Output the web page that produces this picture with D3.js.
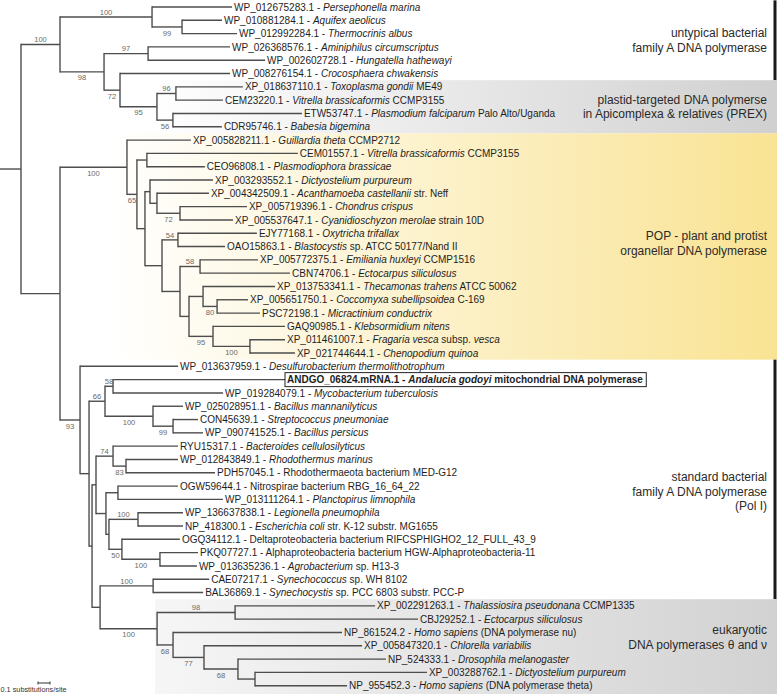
<!DOCTYPE html>
<html><head><meta charset="utf-8">
<script src="https://cdn.jsdelivr.net/npm/d3@7"></script>
<style>body{margin:0;background:#fff}svg{display:block}</style>
</head><body><svg id="c" width="778" height="694"></svg>
<script>
// ---------- DATA ----------
// Tree topology with branch lengths (substitutions/site) and bootstrap support
const treeNewick = "((" +
 "(WP_012675283.1:0.667,(WP_010881284.1:0.333,WP_012992284.1:0.458)99:0.25)100:0.767," +
 "((WP_026368576.1:0.683,WP_002602728.1:0.975)97:0.367,(WP_008276154.1:0.917,((XP_018637110.1:0.558,CEM23220.1:0.392)96:0.158,(ETW53747.1:1.075,CDR95746.1:0.408)56:0.133)95:0.308)72:0.133)98:0.367" +
 ")100:0.325,(" +
 "(XP_005828211.1:0.533,((CEM01557.1:1.258,CEO96808.1:0.483):0.083,((XP_003293552.1:0.525,(XP_004342509.1:0.433,(XP_005719396.1:0.558,XP_005537647.1:0.442)72:0.192):0.058):0.042,((EJY77168.1:0.658,OAO15863.1:0.392)54:0.133,((XP_005772375.1:0.483,CBN74706.1:0.75)58:0.167,((XP_013753341.1:0.6,(XP_005651750.1:0.258,PSC72198.1:0.358)80:0.117):0.117,(GAQ90985.1:0.6,(XP_011461007.1:0.292,XP_021744644.1:0.375)100:0.308)95:0.2):0.075):0.15):0.142):0.067)65:0.083)100:0.558," +
 "(WP_013637959.1:0.817,(((ANDGO_06824.mRNA.1:1.433,WP_019284079.1:0.917)58:0.067,(WP_025028951.1:0.25,(CON45639.1:0.208,WP_090741525.1:0.25)99:0.167)100:0.4)66:0.133,(((RYU15317.1:0.542,(WP_012843849.1:0.433,PDH57045.1:0.742)83:0.108)74:0.142,((OGW59644.1:0.5,WP_013111264.1:0.875):0.1,((WP_136637838.1:0.375,NP_418300.1:0.375)100:0.242,(OGQ34112.1:0.483,(PKQ07727.1:0.317,WP_013635236.1:0.308)100:0.317)50:0.108):0.025):0.083):0.033,((CAE07217.1:0.467,BAL36869.1:0.417)100:0.442,((XP_002291263.1:1.167,CBJ29252.1:1.525)98:0.65,(NP_861524.2:1.408,(XP_005847320.1:1.317,(NP_524333.1:1.233,(XP_003288762.1:1.433,NP_955452.3:0.767):0.142)68:0.283)77:0.258)68:0.133)100:0.475):0.067):0.025):0.075)93:0.167" +
 "):0.325):0.175;";

// Leaf descriptions (*...* = italic)
const taxa = [
 ["WP_012675283.1","*Persephonella marina*"],
 ["WP_010881284.1","*Aquifex aeolicus*"],
 ["WP_012992284.1","*Thermocrinis albus*"],
 ["WP_026368576.1","*Aminiphilus circumscriptus*"],
 ["WP_002602728.1","*Hungatella hathewayi*"],
 ["WP_008276154.1","*Crocosphaera chwakensis*"],
 ["XP_018637110.1","*Toxoplasma gondii* ME49"],
 ["CEM23220.1","*Vitrella brassicaformis* CCMP3155"],
 ["ETW53747.1","*Plasmodium falciparum* Palo Alto/Uganda"],
 ["CDR95746.1","*Babesia bigemina*"],
 ["XP_005828211.1","*Guillardia theta* CCMP2712"],
 ["CEM01557.1","*Vitrella brassicaformis* CCMP3155"],
 ["CEO96808.1","*Plasmodiophora brassicae*"],
 ["XP_003293552.1","*Dictyostelium purpureum*"],
 ["XP_004342509.1","*Acanthamoeba castellanii* str. Neff"],
 ["XP_005719396.1","*Chondrus crispus*"],
 ["XP_005537647.1","*Cyanidioschyzon merolae* strain 10D"],
 ["EJY77168.1","*Oxytricha trifallax*"],
 ["OAO15863.1","*Blastocystis* sp. ATCC 50177/Nand II"],
 ["XP_005772375.1","*Emiliania huxleyi* CCMP1516"],
 ["CBN74706.1","*Ectocarpus siliculosus*"],
 ["XP_013753341.1","*Thecamonas trahens* ATCC 50062"],
 ["XP_005651750.1","*Coccomyxa subellipsoidea* C-169"],
 ["PSC72198.1","*Micractinium conductrix*"],
 ["GAQ90985.1","*Klebsormidium nitens*"],
 ["XP_011461007.1","*Fragaria vesca* subsp. *vesca*"],
 ["XP_021744644.1","*Chenopodium quinoa*"],
 ["WP_013637959.1","*Desulfurobacterium thermolithotrophum*"],
 ["ANDGO_06824.mRNA.1","*Andalucia godoyi* mitochondrial DNA polymerase"],
 ["WP_019284079.1","*Mycobacterium tuberculosis*"],
 ["WP_025028951.1","*Bacillus mannanilyticus*"],
 ["CON45639.1","*Streptococcus pneumoniae*"],
 ["WP_090741525.1","*Bacillus persicus*"],
 ["RYU15317.1","*Bacteroides cellulosilyticus*"],
 ["WP_012843849.1","*Rhodothermus marinus*"],
 ["PDH57045.1","Rhodothermaeota bacterium MED-G12"],
 ["OGW59644.1","Nitrospirae bacterium RBG_16_64_22"],
 ["WP_013111264.1","*Planctopirus limnophila*"],
 ["WP_136637838.1","*Legionella pneumophila*"],
 ["NP_418300.1","*Escherichia coli* str. K-12 substr. MG1655"],
 ["OGQ34112.1","Deltaproteobacteria bacterium RIFCSPHIGHO2_12_FULL_43_9"],
 ["PKQ07727.1","Alphaproteobacteria bacterium HGW-Alphaproteobacteria-11"],
 ["WP_013635236.1","*Agrobacterium* sp. H13-3"],
 ["CAE07217.1","*Synechococcus* sp. WH 8102"],
 ["BAL36869.1","*Synechocystis* sp. PCC 6803 substr. PCC-P"],
 ["XP_002291263.1","*Thalassiosira pseudonana* CCMP1335"],
 ["CBJ29252.1","*Ectocarpus siliculosus*"],
 ["NP_861524.2","*Homo sapiens* (DNA polymerase nu)"],
 ["XP_005847320.1","*Chlorella variabilis*"],
 ["NP_524333.1","*Drosophila melanogaster*"],
 ["XP_003288762.1","*Dictyostelium purpureum*"],
 ["NP_955452.3","*Homo sapiens* (DNA polymerase theta)"]
];
const highlighted = ["ANDGO_06824.mRNA.1"];
// clades whose support label sits below the branch although they are upper children
const supportBelow = ["XP_005828211.1"];

// Groups: first/last leaf accession, label lines, style
const groups = [
 {from:"WP_012675283.1", to:"WP_008276154.1", lines:["untypical bacterial","family A DNA polymerase"], style:"bar"},
 {from:"XP_018637110.1", to:"CDR95746.1", lines:["plastid-targeted DNA polymerse","in Apicomplexa & relatives (PREX)"], style:"gray"},
 {from:"XP_005828211.1", to:"XP_021744644.1", lines:["POP - plant and protist","organellar DNA polymerase"], style:"yellow"},
 {from:"WP_013637959.1", to:"BAL36869.1", lines:["standard bacterial","family A DNA polymerase","(Pol I)"], style:"bar"},
 {from:"XP_002291263.1", to:"NP_955452.3", lines:["eukaryotic","DNA polymerases \u03b8 and \u03bd"], style:"gray2"}
];
const scaleBarValue = 0.1;
const scaleBarLabel = "0.1 substitutions/site";

// ---------- LAYOUT ----------
const W = 778, H = 694;
const svg = d3.select("#c");
const FONT = "'Liberation Sans', Arial, Helvetica, sans-serif";

function parseNewick(str){
  const s = str.replace(/\s+/g,"");
  let i = 0;
  function node(){
    const n = {name:"", length:0, children:null};
    if (s[i] === "("){
      n.children = []; i++;
      do { n.children.push(node()); } while (s[i++] === ",");
    }
    let st = i;
    while (i < s.length && !",():;".includes(s[i])) i++;
    n.name = s.slice(st, i);
    if (s[i] === ":"){ i++; st = i; while (i < s.length && !",();".includes(s[i])) i++; n.length = +s.slice(st, i); }
    return n;
  }
  return node();
}

const root = d3.hierarchy(parseNewick(treeNewick), d => d.children);
root.eachBefore(n => { n.cum = (n.parent ? n.parent.cum : 0) + n.data.length; });
const leaves = root.leaves();
const leafIndex = new Map(leaves.map((l,i) => [l.data.name, i]));

const x = d3.scaleLinear().domain([0, 1]).range([0, 120]);
const y = d3.scaleLinear().domain([0, leaves.length - 1]).range([7, 685.7]);

leaves.forEach((l,i) => l.y = y(i));
root.eachAfter(n => { if (n.children) n.y = (n.children[0].y + n.children[n.children.length-1].y) / 2; });
root.each(n => n.x = x(n.cum));

// ---------- BACKGROUND BANDS ----------
const defs = svg.append("defs");
function grad(id, x1, c1, c2){
  const g = defs.append("linearGradient").attr("id", id).attr("gradientUnits","userSpaceOnUse")
    .attr("x1", x1).attr("x2", 777).attr("y1", 0).attr("y2", 0);
  g.append("stop").attr("offset", 0).attr("stop-color", c1);
  g.append("stop").attr("offset", 1).attr("stop-color", c2);
}
grad("gGray", 150, "#ffffff", "#d0d0d0");
grad("gGray2", 155, "#f6f6f6", "#d2d2d2");
grad("gYel", 110, "#ffffff", "#f9e393");

const bandG = svg.append("g");
groups.forEach((g, gi) => {
  const i0 = leafIndex.get(g.from), i1 = leafIndex.get(g.to);
  const top = Math.max(0, y(i0 - 0.5));
  const bot = gi === groups.length - 1 ? H : y(i1 + 0.5);
  g.top = top; g.bot = bot;
  if (g.style === "bar"){
    bandG.append("rect").attr("x", 773.5).attr("y", top).attr("width", 3).attr("height", bot - top).attr("fill", "#1a1a1a");
  } else {
    const fill = g.style === "gray" ? "url(#gGray)" : g.style === "gray2" ? "url(#gGray2)" : "url(#gYel)";
    const x0 = g.style === "gray" ? 150 : g.style === "gray2" ? 155 : 110;
    bandG.append("rect").attr("x", x0).attr("y", top).attr("width", 777 - x0).attr("height", bot - top).attr("fill", fill);
  }
});

// ---------- TREE ----------
const lineColor = "#4d4d4d";
const tree = svg.append("g").attr("fill","none").attr("stroke", lineColor).attr("stroke-width", 1.4);
// root stem
tree.append("path").attr("d", `M${x(0)},${root.y}H${root.x}`);
// horizontal branches
tree.selectAll("path.h").data(root.descendants().filter(d => d.parent)).join("path")
  .attr("class","h").attr("d", d => `M${d.parent.x},${d.y}H${d.x}`);
// vertical connectors
tree.selectAll("path.v").data(root.descendants().filter(d => d.children)).join("path")
  .attr("class","v").attr("stroke-linecap","square")
  .attr("d", d => `M${d.x},${d.children[0].y}V${d.children[d.children.length-1].y}`);

// support values
const sup = root.descendants().filter(d => d.parent && d.children && d.data.name !== "");
svg.append("g").attr("font-family", FONT).attr("font-size", 7.6).attr("fill", "#6a6a6a").attr("text-anchor","middle")
  .selectAll("text").data(sup).join("text")
  .attr("x", d => (d.parent.x + d.x) / 2)
  .attr("y", d => {
    const upper = d.parent.children[0] === d && !supportBelow.includes(d.leaves()[0].data.name);
    return upper ? d.y - 2.2 : d.y + 8.6;
  })
  .text(d => d.data.name);

// leaf labels
const descMap = new Map(taxa);
const lab = svg.append("g").attr("font-family", FONT).attr("font-size", 10).attr("fill", "#1e1e1e");
leaves.forEach(l => {
  const isHi = highlighted.includes(l.data.name);
  const t = lab.append("text").attr("x", l.x + 2).attr("y", l.y + 3.6)
    .attr("font-weight", isHi ? "bold" : null);
  t.append("tspan").text(l.data.name + " - ");
  const parts = (descMap.get(l.data.name) || "").split("*");
  parts.forEach((p, k) => { if (p) t.append("tspan").attr("font-style", k % 2 ? "italic" : null).text(p); });
  if (isHi){
    const bb = t.node().getBBox();
    lab.append("rect").attr("x", l.x).attr("y", l.y - 7).attr("width", bb.x + bb.width + 3 - l.x).attr("height", 14)
      .attr("fill","none").attr("stroke","#222").attr("stroke-width", 1);
  }
});

// group labels
const offsets = [0, 0, -3, 12, -9];
const gl = svg.append("g").attr("font-family", FONT).attr("font-size", 12).attr("fill", "#2a2a2a").attr("text-anchor","end");
groups.forEach((g, gi) => {
  const cy = (g.top + g.bot) / 2 + offsets[gi];
  const n = g.lines.length;
  g.lines.forEach((ln, k) => {
    gl.append("text").attr("x", 767).attr("y", cy + (k - (n - 1) / 2) * 14.6 + 4.2).text(ln);
  });
});

// scale bar
const sb = svg.append("g").attr("stroke", "#333").attr("stroke-width", 1);
const sx0 = 38, sy = 683;
sb.append("path").attr("d", `M${sx0},${sy}H${sx0 + x(scaleBarValue) - x(0)}`);
sb.append("path").attr("d", `M${sx0},${sy-1.5}V${sy+1.5}M${sx0 + x(scaleBarValue) - x(0)},${sy-1.5}V${sy+1.5}`);
svg.append("text").attr("x", 0.5).attr("y", 692).attr("font-family", FONT).attr("font-size", 7.3).attr("fill","#333").text(scaleBarLabel);
</script></body></html>
